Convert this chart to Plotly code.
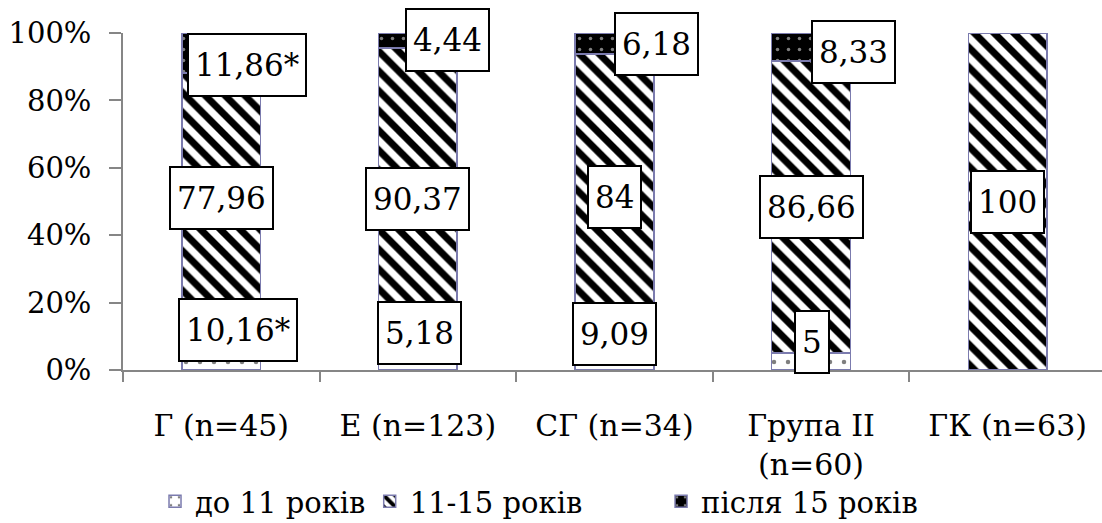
import plotly.graph_objects as go

categories = ["Г (n=45)", "Е (n=123)", "СГ (n=34)", "Група ІІ<br>(n=60)", "ГК (n=63)"]
series_names = ["до 11 років", "11-15 років", "після 15 років"]
under_11 = [10.16, 5.18, 9.09, 5, 0]
from_11_15 = [77.96, 90.37, 84, 86.66, 100]
after_15 = [11.86, 4.44, 6.18, 8.33, 0]
label_under_11 = ["10,16*", "5,18", "9,09", "5", None]
label_11_15 = ["77,96", "90,37", "84", "86,66", "100"]
label_after_15 = ["11,86*", "4,44", "6,18", "8,33", None]

FONT = "DejaVu Serif"
outline = "#7b7bae"

fig = go.Figure()
patterns = [
    dict(shape=".", fgcolor="black", bgcolor="white", size=14, solidity=0.08),
    dict(shape="\\", fgcolor="#000000", bgcolor="white", size=14, solidity=0.5, fgopacity=1),
    dict(shape=".", fgcolor="white", bgcolor="black", size=11, solidity=0.08),
]
colors = ["white", "white", "black"]
legend_ids = ["legend", "legend2", "legend3"]
legend_x = [0.0327, 0.252, 0.5496]
for name, vals, pat, col, lid in zip(series_names, [under_11, from_11_15, after_15], patterns, colors, legend_ids):
    fig.add_trace(go.Bar(
        x=categories, y=vals, name=name, width=0.40, legend=lid,
        marker=dict(color=col, pattern=pat, line=dict(color=outline, width=1.5)),
    ))

fig.update_layout(barmode="stack", barnorm="percent")

# label offsets (pixels) per segment; positive yshift = up
shift_under = [(17, 23), (2, 28), (0, 21), (1, 20), (0, 0)]
shift_mid = [(0, 6), (0, 1), (0, 0), (0, 0), (0, 0)]
shift_top = [(26, -12), (30, 0), (42, -1), (42, -5), (0, 0)]

annotations = []
for i, c in enumerate(categories):
    tot = under_11[i] + from_11_15[i] + after_15[i]
    a = under_11[i] / tot * 100
    b = from_11_15[i] / tot * 100
    t = after_15[i] / tot * 100
    segs = [
        (label_under_11[i], a / 2, shift_under[i]),
        (label_11_15[i], a + b / 2, shift_mid[i]),
        (label_after_15[i], a + b + t / 2, shift_top[i]),
    ]
    for txt, ymid, (dx, dy) in segs:
        if txt is None:
            continue
        annotations.append(dict(
            x=c, y=ymid, text=txt, showarrow=False, xshift=dx, yshift=dy,
            font=dict(family=FONT, size=31, color="black"),
            height=48, valign="middle",
            bgcolor="white", bordercolor="black", borderwidth=2, borderpad=6,
        ))

legend_style = dict(orientation="h", xanchor="left", y=-0.39, yanchor="middle",
                    bgcolor="rgba(0,0,0,0)",
                    font=dict(family=FONT, size=29, color="black"), itemwidth=30)

fig.update_layout(
    width=1102, height=523,
    margin=dict(l=123, r=0, t=33, b=153, autoexpand=False),
    paper_bgcolor="white", plot_bgcolor="white",
    font=dict(family=FONT, size=29, color="black"),
    annotations=annotations,
    showlegend=True,
    legend=dict(x=legend_x[0], **legend_style),
    legend2=dict(x=legend_x[1], **legend_style),
    legend3=dict(x=legend_x[2], **legend_style),
    bargap=0.6,
)
fig.update_yaxes(range=[0, 100], tickvals=[0, 20, 40, 60, 80, 100],
                 ticktext=["0%", "20%", "40%", "60%", "80%", "100%"],
                 showgrid=False, showline=True, linecolor="#868686", linewidth=1.5,
                 ticks="outside", ticklen=12, tickcolor="#868686", tickwidth=1.5,
                 zeroline=False, ticklabelstandoff=12, automargin=False,
                 tickfont=dict(family=FONT, size=29, color="black"))
fig.update_xaxes(range=[-0.5, 4.48], showgrid=False, showline=True, linecolor="#868686",
                 linewidth=1.5, ticks="outside", tickson="boundaries", ticklen=10,
                 tickcolor="#868686", tickwidth=1.5, ticklabelstandoff=28, automargin=False,
                 tickfont=dict(family=FONT, size=30, color="black"))

fig.write_html("out.html")
